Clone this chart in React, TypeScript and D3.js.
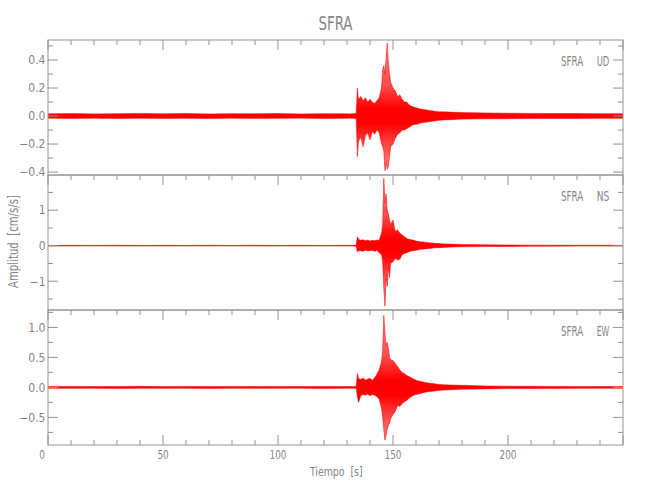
import React from "react";
import * as d3 from "d3";

// ---- data (envelope of each trace: upper / lower amplitude, cm/s/s) ----
const times = [0,10,20,30,40,50,60,70,80,90,100,110,120,130,
  131,132,133,134,134.5,
  135,136,137,138,139,140,141,142,143,144,145,
  145.5,146,146.5,147,147.5,148,148.5,149,
  150,151,152,153,154,155,156,157,158,159,160,
  162,164,166,168,170,172,175,180,
  190,200,210,220,230,240,250];

const udHi = [0.016,0.018,0.015,0.017,0.019,0.016,0.018,0.015,0.017,0.016,0.018,0.015,0.017,0.016,
  0.015,0.017,0.016,0.02,0.2,
  0.12,0.14,0.11,0.13,0.1,0.12,0.1,0.09,0.11,0.13,0.2,
  0.33,0.36,0.3,0.42,0.52,0.38,0.3,0.24,
  0.2,0.18,0.14,0.15,0.12,0.1,0.1,0.08,0.07,0.065,0.06,
  0.05,0.045,0.04,0.035,0.03,0.03,0.028,0.025,
  0.022,0.02,0.019,0.018,0.018,0.017,0.017];
const udLo = [-0.015,-0.017,-0.016,-0.018,-0.015,-0.017,-0.016,-0.018,-0.015,-0.017,-0.016,-0.015,-0.018,-0.016,
  -0.016,-0.015,-0.017,-0.02,-0.29,
  -0.18,-0.15,-0.22,-0.14,-0.12,-0.17,-0.11,-0.13,-0.1,-0.12,-0.2,
  -0.22,-0.25,-0.39,-0.33,-0.38,-0.36,-0.29,-0.22,
  -0.2,-0.16,-0.13,-0.12,-0.1,-0.1,-0.09,-0.08,-0.07,-0.06,-0.06,
  -0.05,-0.045,-0.04,-0.035,-0.03,-0.028,-0.026,-0.022,
  -0.02,-0.019,-0.018,-0.017,-0.017,-0.016,-0.016];

const nsHi = [0.008,0.01,0.009,0.011,0.008,0.01,0.009,0.01,0.008,0.011,0.009,0.01,0.008,0.01,
  0.01,0.01,0.012,0.02,0.25,
  0.18,0.15,0.17,0.14,0.16,0.13,0.15,0.14,0.16,0.15,0.35,
  0.6,1.9,1.2,1.47,1.0,0.9,0.72,0.6,
  0.72,0.4,0.45,0.35,0.3,0.25,0.2,0.18,0.17,0.15,0.13,
  0.11,0.1,0.08,0.07,0.06,0.05,0.045,0.035,
  0.025,0.02,0.016,0.014,0.012,0.012,0.011];
const nsLo = [-0.009,-0.01,-0.008,-0.01,-0.011,-0.009,-0.01,-0.008,-0.01,-0.009,-0.011,-0.009,-0.01,-0.009,
  -0.01,-0.011,-0.01,-0.02,-0.17,
  -0.15,-0.14,-0.16,-0.12,-0.15,-0.14,-0.13,-0.16,-0.13,-0.2,-0.25,
  -0.45,-1.2,-1.7,-0.9,-1.15,-0.6,-0.9,-0.5,
  -0.45,-0.36,-0.4,-0.38,-0.25,-0.22,-0.2,-0.17,-0.15,-0.14,-0.13,
  -0.1,-0.09,-0.08,-0.06,-0.055,-0.05,-0.04,-0.03,
  -0.025,-0.02,-0.016,-0.014,-0.012,-0.012,-0.011];

const ewHi = [0.015,0.017,0.014,0.016,0.018,0.015,0.017,0.014,0.016,0.015,0.017,0.014,0.016,0.015,
  0.015,0.016,0.015,0.02,0.23,
  0.15,0.13,0.16,0.12,0.14,0.15,0.12,0.16,0.22,0.3,0.43,
  0.6,1.2,0.9,0.7,0.75,0.65,0.5,0.46,
  0.45,0.4,0.35,0.29,0.25,0.23,0.2,0.18,0.16,0.14,0.12,
  0.1,0.08,0.07,0.06,0.05,0.045,0.04,0.035,
  0.025,0.02,0.018,0.017,0.016,0.015,0.015];
const ewLo = [-0.014,-0.016,-0.015,-0.017,-0.014,-0.016,-0.015,-0.017,-0.014,-0.016,-0.015,-0.014,-0.017,-0.015,
  -0.015,-0.014,-0.016,-0.02,-0.15,
  -0.25,-0.14,-0.12,-0.13,-0.11,-0.14,-0.12,-0.13,-0.15,-0.2,-0.35,
  -0.5,-0.7,-0.88,-0.8,-0.7,-0.63,-0.6,-0.52,
  -0.45,-0.4,-0.3,-0.32,-0.27,-0.24,-0.22,-0.18,-0.15,-0.13,-0.12,
  -0.1,-0.08,-0.07,-0.06,-0.05,-0.045,-0.04,-0.03,
  -0.025,-0.02,-0.018,-0.017,-0.016,-0.015,-0.015];

const udTicks = [-0.4, -0.2, 0, 0.2, 0.4];
const udTickLabels = ["\u22120.4", "\u22120.2", "0.0", "0.2", "0.4"];
const nsTicks = [-1, 0, 1];
const nsTickLabels = ["\u22121", "0", "1"];
const ewTicks = [-0.5, 0, 0.5, 1.0];
const ewTickLabels = ["\u22120.5", "0.0", "0.5", "1.0"];
const xTicks = [0, 50, 100, 150, 200];
const xTickLabels = ["0", "50", "100", "150", "200"];

const station = "SFRA";
const components = ["UD", "NS", "EW"];

// ---- layout ----
const W = 650, H = 500;
const left = 48, right = 623, top = 40, panelH = 135;
const axisColor = "#939393";
const textColor = "#858585";
const font = "'Liberation Sans Narrow','DejaVu Sans Condensed','Liberation Sans',sans-serif";

const panels = [
  { comp: components[0], hi: udHi, lo: udLo, domain: [-0.421, 0.543], ticks: udTicks, labels: udTickLabels, minor: 0.1 },
  { comp: components[1], hi: nsHi, lo: nsLo, domain: [-1.81, 1.99], ticks: nsTicks, labels: nsTickLabels, minor: 0.5 },
  { comp: components[2], hi: ewHi, lo: ewLo, domain: [-0.96, 1.29], ticks: ewTicks, labels: ewTickLabels, minor: 0.25 },
];

const x = d3.scaleLinear().domain([0, 250]).range([left, right]);
const xMinor = d3.range(0, 250.001, 10);

export default function App() {
  return (
    <svg width={W} height={H} style={{ position: "absolute", left: 0, top: 0, background: "#fff" }}>
      <rect width={W} height={H} fill="#fff" />
      <defs>
        {panels.map((p, i) => {
          const y0 = top + i * panelH;
          const y = d3.scaleLinear().domain(p.domain).range([y0 + panelH, y0]);
          const z = y(0);
          const off = (v: number) => Math.max(0, Math.min(1, (v - y0) / panelH));
          return (
            <React.Fragment key={i}>
              <clipPath id={`clip${i}`}>
                <rect x={left} y={y0} width={right - left} height={panelH} />
              </clipPath>
              <linearGradient id={`grad${i}`} gradientUnits="userSpaceOnUse" x1={0} x2={0} y1={y0} y2={y0 + panelH}>
                <stop offset={0} stopColor="#ff8a8a" />
                <stop offset={off(z - 30)} stopColor="#ff4a4a" />
                <stop offset={off(z - 8)} stopColor="#ff0000" />
                <stop offset={off(z + 8)} stopColor="#ff0000" />
                <stop offset={off(z + 30)} stopColor="#ff4a4a" />
                <stop offset={1} stopColor="#ff8a8a" />
              </linearGradient>
            </React.Fragment>
          );
        })}
      </defs>
      <text x={335.5} y={30} textAnchor="middle" fontFamily={font} fontSize={20} fill={textColor}
        textLength={34} lengthAdjust="spacingAndGlyphs">{station}</text>
      {panels.map((p, i) => {
        const y0 = top + i * panelH;
        const y = d3.scaleLinear().domain(p.domain).range([y0 + panelH, y0]);
        const area = d3.area<number>()
          .x((_, k) => x(times[k]))
          .y0((_, k) => y(p.lo[k]))
          .y1((_, k) => y(p.hi[k]));
        const path = area(times) || "";
        const minorTicks = d3.range(Math.ceil(p.domain[0] / p.minor) * p.minor, p.domain[1], p.minor)
          .map(v => Math.round(v * 1000) / 1000);
        const isMajor = (v: number) => p.ticks.some(t => Math.abs(t - v) < 1e-6);
        return (
          <g key={i}>
            <g clipPath={`url(#clip${i})`}>
              <path d={path} fill={`url(#grad${i})`} stroke="#ff0000" strokeOpacity={0.75} strokeWidth={0.7} />
            </g>
            <rect x={left} y={y0} width={right - left} height={panelH} fill="none" stroke={axisColor} strokeWidth={1} />
            {minorTicks.map((v, k) => {
              const len = isMajor(v) ? 10 : 5;
              const yy = y(v);
              return (
                <g key={k}>
                  <line x1={left} x2={left + len} y1={yy} y2={yy} stroke={axisColor} />
                  <line x1={right} x2={right - len} y1={yy} y2={yy} stroke={axisColor} />
                </g>
              );
            })}
            {p.ticks.map((v, k) => (
              <text key={k} x={45.5} y={y(v)} dy="0.36em" textAnchor="end" fontFamily={font} fontSize={12} fill={textColor}>
                {p.labels[k]}
              </text>
            ))}
            {xMinor.map((v, k) => {
              const len = v % 50 === 0 ? 10 : 5;
              return <line key={k} x1={x(v)} x2={x(v)} y1={y0} y2={y0 + len} stroke={axisColor} />;
            })}
            <text x={561} y={y0 + 26} fontFamily={font} fontSize={14} fill={textColor}
              textLength={22.3} lengthAdjust="spacingAndGlyphs">{station}</text>
            <text x={609.3} y={y0 + 26} textAnchor="end" fontFamily={font} fontSize={14} fill={textColor}
              textLength={12.6} lengthAdjust="spacingAndGlyphs">{p.comp}</text>
          </g>
        );
      })}
      {xMinor.map((v, k) => {
        const len = v % 50 === 0 ? 10 : 5;
        const yb = top + 3 * panelH;
        return <line key={k} x1={x(v)} x2={x(v)} y1={yb} y2={yb - len} stroke={axisColor} />;
      })}
      {xTicks.map((v, k) => (
        <text key={k} x={v === 0 ? x(v) - 6 : x(v)} y={458.5} textAnchor="middle" fontFamily={font} fontSize={13} fill={textColor}
          textLength={xTickLabels[k].length * 5.6} lengthAdjust="spacingAndGlyphs">{xTickLabels[k]}</text>
      ))}
      <text x={336.3} y={476} textAnchor="middle" fontFamily={font} fontSize={13} fill={textColor}
        textLength={52.7} lengthAdjust="spacingAndGlyphs">{"Tiempo\u00a0\u00a0[s]"}</text>
      <text transform="translate(18.3,241.5) rotate(-90)" textAnchor="middle" fontFamily={font} fontSize={14} fill={textColor}
        textLength={93} lengthAdjust="spacingAndGlyphs">{"Amplitud\u00a0\u00a0[cm/s/s]"}</text>
    </svg>
  );
}
